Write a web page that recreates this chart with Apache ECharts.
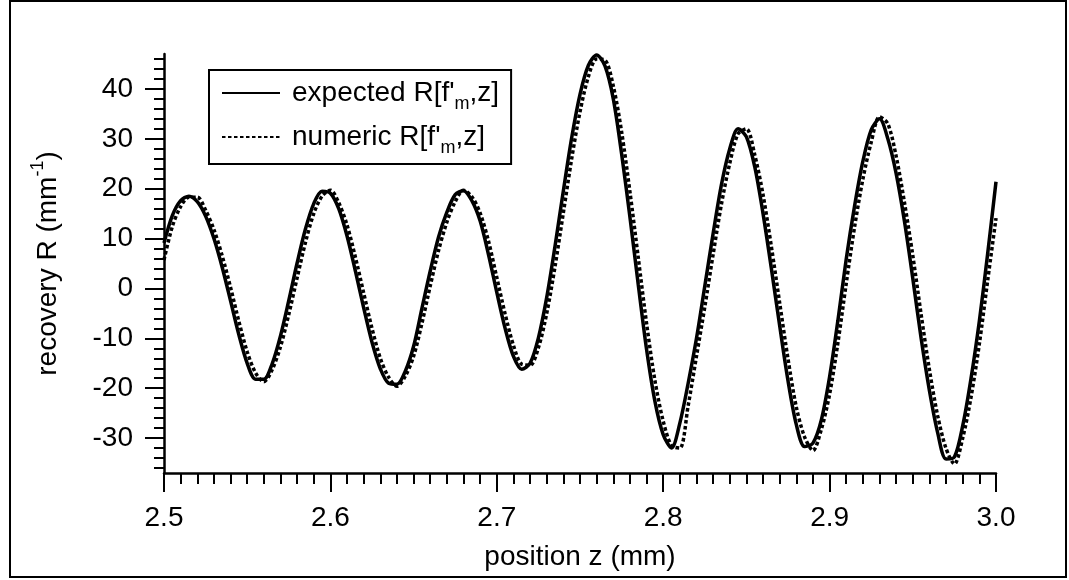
<!DOCTYPE html>
<html>
<head>
<meta charset="utf-8">
<style>
  html, body { margin: 0; padding: 0; background: #fff; }
  #chart { width: 1069px; height: 580px; }
</style>
<script src="https://cdn.jsdelivr.net/npm/echarts@6/dist/echarts.min.js"></script>
</head>
<body>
<div id="chart"></div>
<script>
// sample positions z (mm), every 0.005 mm
const zPositions = [
  2.500, 2.505, 2.510, 2.515, 2.520, 2.525, 2.530, 2.535, 2.540, 2.545,
  2.550, 2.555, 2.560, 2.565, 2.570, 2.575, 2.580, 2.585, 2.590, 2.595,
  2.600, 2.605, 2.610, 2.615, 2.620, 2.625, 2.630, 2.635, 2.640, 2.645,
  2.650, 2.655, 2.660, 2.665, 2.670, 2.675, 2.680, 2.685, 2.690, 2.695,
  2.700, 2.705, 2.710, 2.715, 2.720, 2.725, 2.730, 2.735, 2.740, 2.745,
  2.750, 2.755, 2.760, 2.765, 2.770, 2.775, 2.780, 2.785, 2.790, 2.795,
  2.800, 2.805, 2.810, 2.815, 2.820, 2.825, 2.830, 2.835, 2.840, 2.845,
  2.850, 2.855, 2.860, 2.865, 2.870, 2.875, 2.880, 2.885, 2.890, 2.895,
  2.900, 2.905, 2.910, 2.915, 2.920, 2.925, 2.930, 2.935, 2.940, 2.945,
  2.950, 2.955, 2.960, 2.965, 2.970, 2.975, 2.980, 2.985, 2.990, 2.995,
  3.000
];

// expected recovery R[f'm, z] (mm^-1), solid curve
const rExpected = [
    9.1,  14.6,  17.6,  18.5,  17.4,  14.5,  10.0,   4.2,  -2.5,  -9.3,
  -15.0, -18.2, -18.2, -15.1,  -9.5,  -2.4,   5.1,  11.9,  17.0,  19.5,
   19.1,  16.0,  10.5,   3.5,  -3.9, -10.8, -16.1, -19.0, -19.2, -16.6,
  -11.6,  -4.0,   3.5,  10.3,  15.3,  18.8,  19.6,  17.6,  13.5,   6.8,
   -0.8,  -8.0, -13.6, -16.2, -15.0,  -9.9,  -1.8,   8.5,  19.6,  30.2,
   38.9,  44.7,  46.8,  44.6,  38.0,  27.0,  14.3,   0.8, -12.2, -22.6,
  -29.3, -32.0, -27.0, -19.0, -10.0,   0.5,  11.0,  20.8,  28.0,  32.0,
   30.4,  24.4,  15.0,   4.0,  -7.5, -18.5, -27.3, -31.7, -31.0, -26.4,
  -17.7,  -6.4,   5.9,  16.5,  25.5,  31.8,  34.0,  30.0,  23.0,  13.4,
    2.0, -10.0, -20.5, -29.0, -34.2, -33.8, -27.5, -18.0,  -6.5,   7.0,
   21.4
];

// numerically recovered R[f'm, z] (mm^-1), dotted curve
const rNumeric = [
    5.7,  12.4,  16.4,  18.3,  18.3,  15.7,  11.8,   6.5,   0.2,  -6.6,
  -12.7, -16.9, -18.7, -16.3, -11.7,  -5.2,   2.1,   9.2,  15.0,  18.5,
   19.7,  17.2,  12.7,   6.3,  -0.9,  -8.0, -14.0, -17.8, -19.6, -17.6,
  -13.6,  -7.0,   0.5,   7.6,  13.3,  17.4,  19.7,  18.4,  15.1,   9.5,
    2.2,  -5.1, -11.4, -15.2, -15.4, -11.9,  -5.0,   4.4,  15.2,  26.0,
   35.4,  42.4,  46.0,  45.8,  40.6,  31.4,  19.4,   6.2,  -7.0, -18.4,
  -26.6, -31.5, -32.0, -23.5, -13.6,  -3.7,   6.8,  16.9,  25.1,  31.0,
   32.0,  26.8,  18.8,   8.4,  -2.9, -14.1, -23.8, -29.8, -32.5, -28.3,
  -21.2, -10.9,   1.0,  12.3,  21.9,  29.3,  34.4,  33.0,  26.5,  17.2,
    6.6,  -5.2, -16.3, -25.6, -32.1, -35.2, -30.0, -21.8, -11.1,   1.6,
   14.1
];

// axis ticks
const xTickLabels = ['2.5', '2.6', '2.7', '2.8', '2.9', '3.0'];
const yTickValues = [-30, -20, -10, 0, 10, 20, 30, 40];
const yMinorValues = [-36, -34, -32, -28, -26, -24, -22, -18, -16, -14, -12, -8, -6, -4, -2,
                      2, 4, 6, 8, 12, 14, 16, 18, 22, 24, 26, 28, 32, 34, 36, 38, 42, 44, 46];

const seriesNames = ["expected R[f'm,z]", "numeric R[f'm,z]"];

const FONT = '"Liberation Sans", Arial, Helvetica, sans-serif';
const FS = 28;
const INK = '#000';

const pairs = (xs, ys) => xs.map((x, i) => [x, ys[i]]);

const chart = echarts.init(document.getElementById('chart'), null, { renderer: 'canvas' });

chart.setOption({
  backgroundColor: '#fff',
  animation: false,
  textStyle: { fontFamily: FONT, color: INK },
  grid: { left: 164, right: 73, top: 54, bottom: 107 },
  graphic: [{
    type: 'rect',
    shape: { x: 10, y: 1, width: 1056, height: 576 },
    style: { fill: 'none', stroke: INK, lineWidth: 2 },
    silent: true, z: 0
  }],
  legend: {
    left: 209, top: 70,
    orient: 'vertical',
    padding: [7, 12, 7, 12],
    itemGap: 8,
    itemWidth: 58, itemHeight: 14,
    borderColor: INK, borderWidth: 2,
    backgroundColor: '#fff',
    data: seriesNames,
    itemStyle: { opacity: 0 },
    formatter: name => name.replace("f'm", "f'{sub|m}"),
    textStyle: {
      fontFamily: FONT, fontSize: FS, color: INK, lineHeight: 32,
      padding: [0, 0, 0, 7],
      rich: {
        sub: { fontFamily: FONT, fontSize: 18, color: INK, lineHeight: 32, verticalAlign: 'bottom', padding: [0, 0, -4, 0] }
      }
    }
  },
  xAxis: {
    type: 'value',
    min: 2.5, max: 3.0, interval: 0.1,
    name: 'position z (mm)',
    nameLocation: 'middle',
    nameGap: 70,
    nameTextStyle: { fontFamily: FONT, fontSize: FS, color: INK },
    axisLine: { show: true, onZero: false, lineStyle: { color: INK, width: 2.5 } },
    axisTick: { show: true, inside: false, length: 19, lineStyle: { color: INK, width: 2 } },
    minorTick: { show: true, splitNumber: 10, length: 11, lineStyle: { color: INK, width: 2 } },
    axisLabel: {
      margin: 31, fontFamily: FONT, fontSize: FS, color: INK,
      formatter: v => xTickLabels[Math.round((v - 2.5) * 10)] ?? ''
    },
    splitLine: { show: false },
    minorSplitLine: { show: false }
  },
  yAxis: [{
    type: 'value',
    min: -37, max: 47,
    position: 'left',
    name: '{n|recovery R (mm}{sup|-1}{n|)}',
    nameLocation: 'middle',
    nameRotate: 90,
    nameGap: 100,
    nameTextStyle: {
      fontFamily: FONT, fontSize: FS, color: INK,
      rich: {
        n: { fontFamily: FONT, fontSize: FS, color: INK, lineHeight: 32 },
        sup: { fontFamily: FONT, fontSize: 18, color: INK, lineHeight: 32, verticalAlign: 'top', padding: [-3, 0, 0, 0] }
      }
    },
    axisLine: { show: true, onZero: false, lineStyle: { color: INK, width: 2.5 } },
    axisTick: { show: true, inside: false, length: 19, customValues: yTickValues, lineStyle: { color: INK, width: 2 } },
    axisLabel: { margin: 31, customValues: yTickValues, fontFamily: FONT, fontSize: FS, color: INK },
    splitLine: { show: false }
  }, {
    type: 'value',
    min: -37, max: 47,
    position: 'left',
    offset: 0,
    axisLine: { show: false },
    axisTick: { show: true, inside: false, length: 10, customValues: yMinorValues, lineStyle: { color: INK, width: 2 } },
    axisLabel: { show: false },
    splitLine: { show: false }
  }],
  series: [{
    name: seriesNames[1],
    type: 'line',
    yAxisIndex: 0,
    data: pairs(zPositions, rNumeric),
    showSymbol: false, symbol: 'none',
    smooth: 0.3,
    itemStyle: { color: INK },
    lineStyle: { color: INK, width: 3.5, type: [3.5, 2.5], cap: 'butt' },
    z: 3
  }, {
    name: seriesNames[0],
    type: 'line',
    yAxisIndex: 0,
    data: pairs(zPositions, rExpected),
    showSymbol: false, symbol: 'none',
    smooth: 0.3,
    itemStyle: { color: INK },
    lineStyle: { color: INK, width: 3.5 },
    z: 4
  }]
});
</script>
</body>
</html>
